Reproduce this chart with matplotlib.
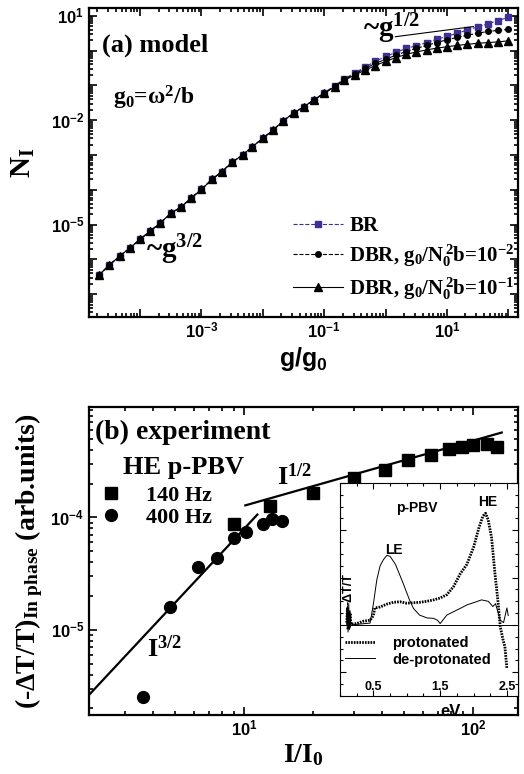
import numpy as np
import matplotlib
matplotlib.use("Agg")
import matplotlib.pyplot as plt
from matplotlib.ticker import LogLocator, FuncFormatter, NullFormatter, FixedLocator, MultipleLocator

plt.rcParams['font.family'] = ['Liberation Serif', 'DejaVu Sans']
plt.rcParams['font.weight'] = 'bold'
plt.rcParams['axes.labelweight'] = 'bold'
plt.rcParams['mathtext.fontset'] = 'custom'
plt.rcParams['mathtext.rm'] = 'Liberation Serif:bold'
plt.rcParams['mathtext.it'] = 'Liberation Serif:bold'
plt.rcParams['mathtext.bf'] = 'Liberation Sans:bold'
plt.rcParams['mathtext.sf'] = 'Liberation Sans'

# ---------- (a) model : log10 values ----------
log_g = [-4.67, -4.50, -4.33, -4.17, -4.00, -3.83, -3.67, -3.50, -3.33, -3.17,
         -3.00, -2.83, -2.67, -2.50, -2.33, -2.17, -2.00, -1.83, -1.67, -1.50,
         -1.33, -1.17, -1.00, -0.83, -0.67, -0.50, -0.33, -0.17, 0.00, 0.17,
         0.33, 0.50, 0.67, 0.83, 1.00, 1.17, 1.33, 1.50, 1.67, 1.83, 2.00]
common = [-6.45, -6.16, -5.90, -5.68, -5.42, -5.18, -4.95, -4.68, -4.49, -4.24,
          -3.99, -3.70, -3.48, -3.21, -3.00, -2.76, -2.52, -2.28, -2.02, -1.80,
          -1.61, -1.42]
log_br = common + [-1.21, -1.01, -0.81, -0.64, -0.47, -0.31, -0.17, -0.05, 0.06, 0.14,
                   0.23, 0.32, 0.41, 0.50, 0.59, 0.68, 0.77, 0.86, 0.96]
log_dbr2 = common + [-1.22, -1.03, -0.83, -0.67, -0.51, -0.37, -0.25, -0.13, -0.03, 0.06,
                     0.15, 0.23, 0.31, 0.38, 0.44, 0.50, 0.55, 0.58, 0.61]
log_dbr1 = common + [-1.23, -1.04, -0.85, -0.70, -0.56, -0.43, -0.31, -0.20, -0.11, -0.04,
                     0.02, 0.07, 0.11, 0.15, 0.18, 0.21, 0.23, 0.25, 0.28]
half_line_g = [1.44, 27.0]
half_line_n = [2.5, 4.9]

# ---------- (b) experiment ----------
i_140 = [9.0, 13, 20, 30, 41, 52, 65, 78, 89, 100, 115, 127]
s_140 = [8.7e-5, 1.26e-4, 1.65e-4, 2.23e-4, 2.66e-4, 3.26e-4, 3.61e-4, 4.08e-4,
         4.23e-4, 4.43e-4, 4.49e-4, 4.27e-4]
i_400 = [3.61, 4.75, 6.28, 7.6, 8.98, 10.2, 12.1, 13.2, 14.6]
s_400 = [2.54e-6, 1.61e-5, 3.59e-5, 4.4e-5, 6.6e-5, 7.4e-5, 8.67e-5, 9.6e-5, 9.3e-5]
fit32_i = [2.12, 11.4]
fit32_s = [2.7e-6, 1.06e-4]
fit12_i = [10.1, 133]
fit12_s = [1.28e-4, 5.69e-4]

# ---------- inset spectra ----------
prot_ev = [0.10, 0.11, 0.12, 0.13, 0.14, 0.15, 0.16, 0.25, 0.35, 0.45, 0.50, 0.52,
           0.60, 0.70, 0.80, 0.90, 1.00, 1.10, 1.20, 1.30, 1.40, 1.50, 1.60, 1.70,
           1.80, 1.90, 2.00, 2.08, 2.14, 2.18, 2.22, 2.27, 2.32, 2.37, 2.40, 2.44,
           2.47, 2.50]
prot_dt = [0.05, 0.35, -0.10, 0.30, -0.05, 0.25, 0.02, 0.03, 0.08, 0.10, 0.20, 0.36,
           0.38, 0.44, 0.48, 0.49, 0.46, 0.47, 0.48, 0.50, 0.53, 0.57, 0.64, 0.81,
           1.08, 1.28, 1.64, 2.05, 2.30, 2.36, 2.22, 1.85, 1.10, 0.45, -0.03, -0.30,
           -0.46, -0.92]
deprot_ev = [0.10, 0.11, 0.12, 0.13, 0.14, 0.15, 0.16, 0.30, 0.45, 0.50, 0.55, 0.60,
             0.65, 0.70, 0.75, 0.83, 0.94, 1.04, 1.10, 1.19, 1.30, 1.40, 1.46, 1.50,
             1.55, 1.60, 1.70, 1.80, 1.91, 2.00, 2.12, 2.22, 2.29, 2.33, 2.37, 2.40,
             2.45, 2.50, 2.52]
deprot_dt = [0.00, 0.40, -0.15, 0.45, -0.10, 0.30, 0.00, 0.02, 0.04, 0.45, 0.95, 1.25,
             1.38, 1.47, 1.45, 1.28, 0.90, 0.53, 0.35, 0.21, 0.15, 0.14, 0.10, 0.03,
             0.12, 0.21, 0.28, 0.35, 0.43, 0.47, 0.53, 0.50, 0.39, 0.45, 0.25, 0.10,
             0.05, 0.36, 0.20]

BLUE = '#3f3194'


def pow_fmt(show):
    def f(v, pos):
        e = int(round(np.log10(v)))
        return r"$\mathbf{10^{%d}}$" % e if e in show else ""
    return FuncFormatter(f)


def style_log_axes(ax):
    ax.tick_params(which='both', direction='in', top=True, right=True, width=1.2)
    ax.tick_params(which='major', length=6, labelsize=12)
    ax.tick_params(which='minor', length=3)
    for s in ax.spines.values():
        s.set_linewidth(1.6)


fig = plt.figure(figsize=(5.24, 7.74), dpi=100)

# ================= panel (a) =================
ax1 = fig.add_axes([0.170, 0.5904, 0.819, 0.3993])
g = 10 ** np.array(log_g)
ax1.plot(g, 10 ** np.array(log_br), color=BLUE, lw=0.8, ls='--', marker='s', ms=4,
         label="BR")
ax1.plot(g, 10 ** np.array(log_dbr2), color='black', lw=0.8, ls='--', marker='o', ms=4,
         label=r"DBR, g$_\mathrm{0}$/N$_\mathrm{0}^{\,\mathrm{2}}$b=10$^{-2}$")
ax1.plot(g, 10 ** np.array(log_dbr1), color='black', lw=0.8, ls='-', marker='^', ms=5.5,
         label=r"DBR, g$_\mathrm{0}$/N$_\mathrm{0}^{\,\mathrm{2}}$b=10$^{-1}$")
ax1.plot(half_line_g, half_line_n, color='black', lw=0.8)
ax1.set_xscale('log')
ax1.set_yscale('log')
ax1.set_xlim(10 ** -4.83, 10 ** 2.16)
ax1.set_ylim(10 ** -7.655, 10 ** 1.224)
ax1.xaxis.set_major_locator(LogLocator(base=10, numticks=20))
ax1.yaxis.set_major_locator(LogLocator(base=10, numticks=20))
ax1.xaxis.set_minor_locator(LogLocator(base=10, subs=np.arange(2, 10), numticks=20))
ax1.yaxis.set_minor_locator(LogLocator(base=10, subs=np.arange(2, 10), numticks=20))
ax1.xaxis.set_major_formatter(pow_fmt([-3, -1, 1]))
ax1.yaxis.set_major_formatter(pow_fmt([1, -2, -5]))
ax1.xaxis.set_minor_formatter(NullFormatter())
ax1.yaxis.set_minor_formatter(NullFormatter())
style_log_axes(ax1)

ax1.text(0.030, 0.880, "(a) model", transform=ax1.transAxes, fontsize=19, va='center')
ax1.text(0.056, 0.71, "g$_\\mathrm{0}$=\u03c9$^\\mathrm{2}$/b", transform=ax1.transAxes,
         fontsize=17, va='center')
ax1.text(0.639, 0.906, r"~g$^{\mathrm{1/2}}$", transform=ax1.transAxes, fontsize=21,
         va='baseline')
ax1.text(0.133, 0.191, r"~g$^{\mathrm{3/2}}$", transform=ax1.transAxes, fontsize=21,
         va='baseline')
ax1.legend(loc='lower left', bbox_to_anchor=(0.475, 0.05), frameon=False, fontsize=15,
           handlelength=2.4, handletextpad=0.3, labelspacing=0.3, borderpad=0,
           borderaxespad=0)
ax1.set_xlabel(r"$\mathsf{g/g_0}$", fontsize=18, labelpad=2)
ax1.set_ylabel(r"$\mathrm{N_I}$", fontsize=21, labelpad=10)

# ================= panel (b) =================
ax2 = fig.add_axes([0.170, 0.0762, 0.819, 0.398])
ax2.plot(i_140, s_140, ls='none', marker='s', ms=8, color='black', label="140 Hz")
ax2.plot(i_400, s_400, ls='none', marker='o', ms=8.5, color='black', label="400 Hz")
ax2.plot(fit32_i, fit32_s, color='black', lw=1.6)
ax2.plot(fit12_i, fit12_s, color='black', lw=1.6)
ax2.set_xscale('log')
ax2.set_yscale('log')
ax2.set_xlim(2.1, 157)
ax2.set_ylim(1.75e-6, 9.6e-4)
ax2.xaxis.set_major_formatter(pow_fmt([1, 2]))
ax2.yaxis.set_major_formatter(pow_fmt([-3, -4, -5]))
ax2.xaxis.set_minor_formatter(NullFormatter())
ax2.yaxis.set_minor_formatter(NullFormatter())
style_log_axes(ax2)

ax2.text(0.014, 0.916, "(b) experiment", transform=ax2.transAxes, fontsize=20, va='center')
ax2.text(0.079, 0.802, "HE p-PBV", transform=ax2.transAxes, fontsize=19, va='center')
ax2.legend(loc='upper left', bbox_to_anchor=(0.025, 0.745), frameon=False, fontsize=16,
           handlelength=1.0, handletextpad=1.1, labelspacing=0.05, borderpad=0,
           borderaxespad=0)
ax2.text(0.438, 0.747, r"I$^{\mathrm{1/2}}$", transform=ax2.transAxes, fontsize=19,
         va='baseline')
ax2.text(0.135, 0.188, r"I$^{\mathrm{3/2}}$", transform=ax2.transAxes, fontsize=19,
         va='baseline')
ax2.set_xlabel(r"$\mathrm{I/I_0}$", fontsize=20, labelpad=2)
ax2.set_ylabel("(-\u0394T/T)$_\\mathrm{In\\ phase}$ (arb.units)", fontsize=20,
               fontweight='bold', labelpad=4)

# ================= inset =================
axin = fig.add_axes([0.649, 0.1008, 0.340, 0.2752])
axin.plot(prot_ev, prot_dt, color='black', lw=2.0, ls=(0, (0.6, 0.4)), label='protonated')
axin.plot(deprot_ev, deprot_dt, color='black', lw=0.7, label='de-protonated')
axin.axhline(0, color='black', lw=0.7)
axin.set_xlim(0.0, 2.67)
axin.set_ylim(-1.5, 3.0)
axin.xaxis.set_major_locator(FixedLocator([0.5, 1.5, 2.5]))
axin.xaxis.set_minor_locator(MultipleLocator(0.25))
axin.yaxis.set_major_locator(MultipleLocator(1))
axin.yaxis.set_minor_locator(MultipleLocator(0.25))
axin.set_yticklabels([])
axin.tick_params(which='both', direction='in', top=True, right=True, width=0.8)
axin.tick_params(which='major', length=4)
axin.tick_params(which='minor', length=2)
axin.tick_params(axis='x', pad=-11, labelsize=9)
for lab in axin.get_xticklabels():
    lab.set_fontfamily('Liberation Sans')
    lab.set_fontweight('bold')
for s in axin.spines.values():
    s.set_linewidth(0.8)

sans = dict(family='Liberation Sans', weight='bold')
axin.text(0.433, 0.883, "p-PBV", transform=axin.transAxes, fontsize=10, ha='center',
          va='center', **sans)
axin.text(0.83, 0.91, "HE", transform=axin.transAxes, fontsize=10, ha='center',
          va='center', **sans)
axin.text(0.30, 0.685, "LE", transform=axin.transAxes, fontsize=10, ha='center',
          va='center', **sans)
axin.text(0.045, 0.50, "-\u0394T/T", transform=axin.transAxes, fontsize=9, ha='center',
          va='center', rotation=90, **sans)
axin.text(0.62, -0.075, "eV", transform=axin.transAxes, fontsize=12, ha='center',
          va='center', **sans)
axin.legend(loc='upper left', bbox_to_anchor=(0.03, 0.28), frameon=False,
            prop=dict(family='Liberation Sans', weight='bold', size=10.5),
            handlelength=2.0, handletextpad=1.2, labelspacing=0.15, borderpad=0,
            borderaxespad=0)

fig.savefig("out.png", dpi=100)
